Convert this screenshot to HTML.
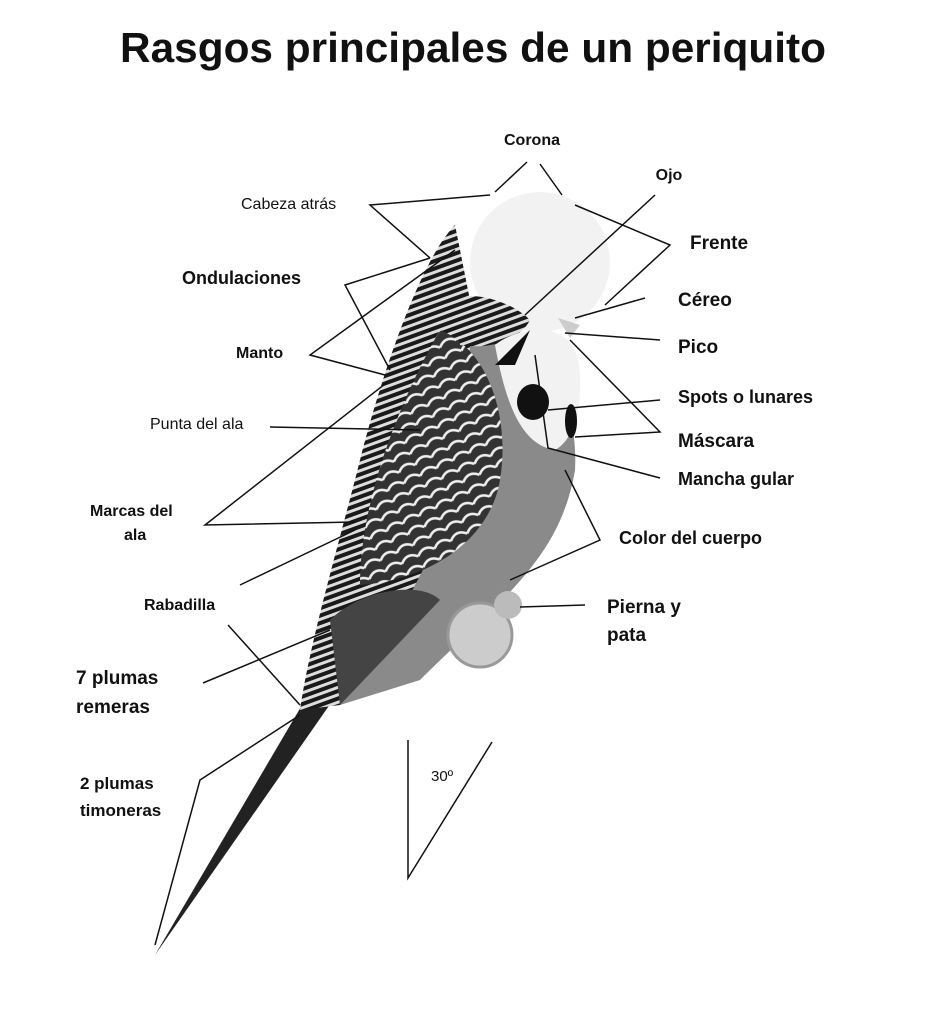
<!DOCTYPE html>
<html><head><meta charset="utf-8"><style>
html,body{margin:0;padding:0;background:#fff;}
svg{display:block;}
text{font-family:"Liberation Sans",sans-serif;fill:#111;}
.b{font-weight:bold;}
</style></head><body>
<svg width="947" height="1011" viewBox="0 0 947 1011" xmlns="http://www.w3.org/2000/svg">
<defs>
<pattern id="stripes" width="12" height="7" patternUnits="userSpaceOnUse" patternTransform="rotate(-20)">
<rect width="12" height="7" fill="#ddd"/><rect width="12" height="4" fill="#1a1a1a"/>
</pattern>
<pattern id="scal" width="18" height="12" patternUnits="userSpaceOnUse" patternTransform="rotate(-25)">
<rect width="18" height="12" fill="#333"/><path d="M0 9 Q9 0 18 9" stroke="#eee" stroke-width="2.5" fill="none"/>
</pattern>
</defs>
<text x="473" y="62" text-anchor="middle" class="b" font-size="42" textLength="706" lengthAdjust="spacingAndGlyphs">Rasgos principales de un periquito</text>

<!-- tail -->
<path d="M305 700 L155 955 L340 690 Z" fill="#222"/>
<!-- body back -->
<path d="M455 225 C420 260 380 380 360 460 C340 540 310 640 300 710 L340 705 C400 650 460 560 480 480 L470 300 Z" fill="url(#stripes)"/>
<!-- belly -->
<path d="M470 300 C520 320 580 380 575 470 C560 560 500 600 420 680 L340 705 C400 620 460 520 470 420 Z" fill="#8a8a8a"/>
<!-- wing -->
<path d="M440 330 C490 350 510 420 500 480 C490 540 430 580 360 585 C360 500 400 400 440 330 Z" fill="url(#scal)"/>
<path d="M330 620 C360 590 420 580 440 600 L340 705 Z" fill="#444"/>
<!-- head -->
<circle cx="540" cy="262" r="70" fill="#f2f2f2"/>
<path d="M455 300 C470 290 510 300 530 320 C520 340 490 350 460 345 Z" fill="url(#stripes)"/>
<!-- mask -->
<path d="M495 345 C520 325 570 320 578 360 C585 400 575 440 555 450 C520 445 505 400 495 345 Z" fill="#f2f2f2"/>
<path d="M495 365 L530 330 L515 365 Z" fill="#111"/>
<ellipse cx="533" cy="402" rx="16" ry="18" fill="#111"/>
<ellipse cx="571" cy="421" rx="6" ry="17" fill="#111"/>
<path d="M558 318 L580 325 L570 338 Z" fill="#ccc"/>
<!-- feet -->
<ellipse cx="480" cy="635" rx="32" ry="32" fill="#ccc" stroke="#999" stroke-width="3"/>
<ellipse cx="508" cy="605" rx="14" ry="14" fill="#bbb"/>

<g stroke="#111" stroke-width="1.5" fill="none">
<path d="M527 162 L495 192 M540 164 L562 195"/>
<path d="M490 195 L370 205 L430 258"/>
<path d="M655 195 L525 315"/>
<path d="M575 205 L670 245 L605 305"/>
<path d="M645 298 L575 318"/>
<path d="M660 340 L565 333"/>
<path d="M660 400 L548 410"/>
<path d="M575 437 L660 432 L570 340"/>
<path d="M535 355 L548 448 L660 478"/>
<path d="M565 470 L600 540 L510 580"/>
<path d="M585 605 L520 607"/>
<path d="M430 258 L345 285 L390 370"/>
<path d="M455 250 L310 355 L385 375"/>
<path d="M270 427 L420 430"/>
<path d="M390 380 L205 525 L355 522"/>
<path d="M240 585 L355 530"/>
<path d="M228 625 L300 705"/>
<path d="M203 683 L330 630"/>
<path d="M300 715 L200 780 L155 945"/>
<path d="M408 740 L408 878 L492 742"/>
</g>

<text x="532" y="145" text-anchor="middle" class="b" font-size="16">Corona</text>
<text x="669" y="180" text-anchor="middle" class="b" font-size="16">Ojo</text>
<text x="241" y="209" font-size="16">Cabeza atrás</text>
<text x="690" y="249" class="b" font-size="19">Frente</text>
<text x="182" y="284" class="b" font-size="18">Ondulaciones</text>
<text x="678" y="306" class="b" font-size="19">Céreo</text>
<text x="236" y="358" class="b" font-size="16">Manto</text>
<text x="678" y="353" class="b" font-size="19">Pico</text>
<text x="678" y="403" class="b" font-size="18">Spots o lunares</text>
<text x="150" y="429" font-size="16">Punta del ala</text>
<text x="678" y="447" class="b" font-size="19">Máscara</text>
<text x="678" y="485" class="b" font-size="18">Mancha gular</text>
<text x="90" y="516" class="b" font-size="16">Marcas del</text>
<text x="124" y="540" class="b" font-size="16">ala</text>
<text x="619" y="544" class="b" font-size="18">Color del cuerpo</text>
<text x="144" y="610" class="b" font-size="16">Rabadilla</text>
<text x="607" y="613" class="b" font-size="19">Pierna y</text>
<text x="607" y="641" class="b" font-size="19">pata</text>
<text x="76" y="684" class="b" font-size="19">7 plumas</text>
<text x="76" y="713" class="b" font-size="19">remeras</text>
<text x="431" y="781" font-size="15">30º</text>
<text x="80" y="789" class="b" font-size="17">2 plumas</text>
<text x="80" y="816" class="b" font-size="17">timoneras</text>
</svg>
</body></html>
